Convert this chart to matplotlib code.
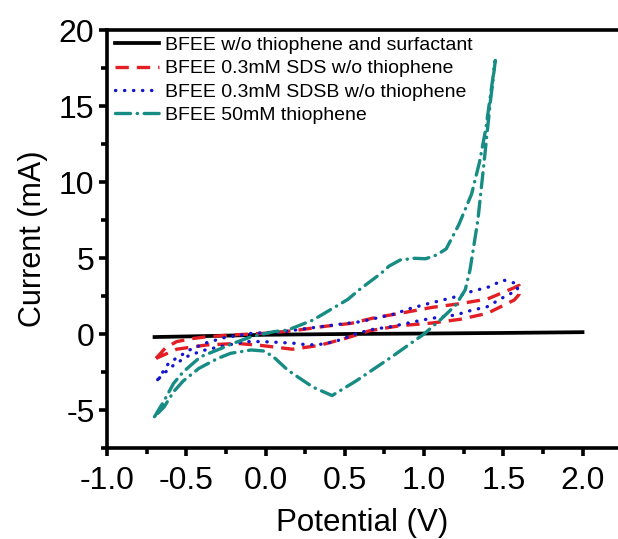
import matplotlib
matplotlib.use("Agg")
import matplotlib.pyplot as plt
from matplotlib.ticker import MultipleLocator, FormatStrFormatter

plt.rcParams['font.family'] = ['Liberation Sans', 'DejaVu Sans']
plt.rcParams['axes.unicode_minus'] = False

# BFEE w/o thiophene and surfactant
black_x = [-0.70, -0.50, -0.30, 0.00, 0.50, 1.00, 1.50, 2.00]
black_y = [-0.20, -0.16, -0.12, -0.05, 0.00, 0.03, 0.07, 0.12]

# BFEE 0.3mM SDS w/o thiophene (forward then reverse scan)
sds_x = [-0.69, -0.63, -0.56, -0.46, -0.37, -0.22, 0.00, 0.18, 0.37, 0.54, 0.68, 0.87, 1.05,
         1.23, 1.40, 1.57, 1.60, 1.60, 1.57, 1.40, 1.23, 1.05, 0.85, 0.66, 0.50, 0.34, 0.17,
         -0.03, -0.18, -0.37, -0.56, -0.69]
sds_y = [-1.6, -0.9, -0.5, -0.3, -0.18, -0.07, 0.05, 0.22, 0.5, 0.7, 1.05, 1.4, 1.75,
         2.0, 2.3, 3.05, 3.2, 2.6, 2.24, 1.36, 0.97, 0.72, 0.55, 0.22, -0.3, -0.75, -1.0,
         -0.75, -0.62, -0.72, -1.0, -1.6]

# BFEE 0.3mM SDSB w/o thiophene
sdsb_x = [-0.68, -0.61, -0.47, -0.37, -0.26, -0.09, 0.11, 0.22, 0.43, 0.60, 0.81, 0.91, 1.02,
          1.12, 1.20, 1.30, 1.41, 1.50, 1.59, 1.59, 1.49, 1.40, 1.29, 1.20, 1.09, 0.99, 0.89,
          0.79, 0.68, 0.58, 0.47, 0.37, 0.27, 0.18, 0.08, -0.02, -0.12, -0.25, -0.40, -0.50,
          -0.60, -0.68]
sdsb_y = [-3.0, -1.9, -1.0, -0.57, -0.24, 0.04, 0.15, 0.31, 0.59, 0.81, 1.31, 1.67, 1.98,
          2.24, 2.45, 2.8, 3.1, 3.55, 3.3, 2.9, 2.35, 1.8, 1.53, 1.25, 1.1, 0.92, 0.7,
          0.48, 0.31, 0.05, -0.39, -0.66, -0.72, -0.61, -0.55, -0.5, -0.5, -0.75, -1.1, -1.5,
          -2.2, -3.0]

# BFEE 50mM thiophene
thio_x = [-0.70, -0.64, -0.58, -0.52, -0.41, -0.28, -0.20, -0.09, 0.05, 0.14, 0.30, 0.52, 0.59,
          0.73, 0.78, 0.85, 0.94, 1.01, 1.08, 1.14, 1.22, 1.30, 1.35, 1.39, 1.45,
          1.42, 1.38, 1.34, 1.29, 1.26, 1.20, 1.10, 1.00, 0.79, 0.57, 0.42, 0.30, 0.20, 0.14,
          0.05, -0.01, -0.09, -0.22, -0.30, -0.42, -0.52, -0.58, -0.64, -0.70]
thio_y = [-5.44, -4.4, -3.25, -2.5, -1.5, -0.95, -0.6, -0.18, 0.15, 0.26, 0.92, 2.28, 2.9,
          4.0, 4.47, 4.87, 4.98, 4.95, 5.2, 5.6, 7.2, 9.2, 11.3, 13.5, 18.0,
          15.4, 11.4, 7.5, 4.2, 2.9, 1.9, 0.9, 0.0, -1.55, -3.1, -4.05, -3.5, -2.8, -2.37,
          -1.5, -1.12, -1.05, -1.27, -1.6, -2.26, -3.1, -3.8, -4.8, -5.44]

labels = ["BFEE w/o thiophene and surfactant",
          "BFEE 0.3mM SDS w/o thiophene",
          "BFEE 0.3mM SDSB w/o thiophene",
          "BFEE 50mM thiophene"]

fig = plt.figure(figsize=(6.18, 5.39), dpi=100)
ax = fig.add_axes([107 / 618, 1 - 448 / 539, 1 - 107 / 618, (448 - 30) / 539])

ax.plot(black_x, black_y, color='black', lw=2.7, label=labels[0])
ax.plot(sds_x, sds_y, color='#e31e24', lw=2.4, dashes=(4, 2.4), label=labels[1])
ax.plot(sdsb_x, sdsb_y, color='#1515d0', lw=2.4, dashes=(0.1, 2.6),
        dash_capstyle='round', label=labels[2])
ax.plot(thio_x, thio_y, color='#168c84', lw=2.4, dashes=(4.5, 2.0, 0.1, 2.0),
        dash_capstyle='round', label=labels[3])

ax.set_xlim(-1.0, -1.0 + 511 / 158.5)
ax.set_ylim(-7.5, 20)
ax.xaxis.set_major_locator(MultipleLocator(0.5))
ax.xaxis.set_minor_locator(MultipleLocator(0.25))
ax.yaxis.set_major_locator(MultipleLocator(5))
ax.yaxis.set_minor_locator(MultipleLocator(2.5))
ax.xaxis.set_major_formatter(FormatStrFormatter('%.1f'))

ax.spines['right'].set_visible(False)
for s in ['left', 'bottom', 'top']:
    ax.spines[s].set_linewidth(2.6)
ax.tick_params(which='major', direction='out', length=6, width=2.6, labelsize=23)
ax.tick_params(axis='x', which='major', pad=7)
ax.tick_params(axis='y', which='major', pad=3)
ax.tick_params(which='minor', direction='out', length=4, width=2.6)
ax.tick_params(top=False, right=False, which='both')

ax.set_xlabel('Potential (V)', fontsize=22.5, va='bottom')
ax.xaxis.set_label_coords(0.5, -(539 - 448 - 1) / 418)
ax.set_ylabel('Current (mA)', fontsize=22, labelpad=8)

ax.legend(loc='upper left', bbox_to_anchor=(0.015, 0.985), frameon=False, fontsize=14,
          handlelength=2.3, handletextpad=0.3, labelspacing=0.3, borderpad=0, borderaxespad=0)

fig.savefig('out.png', dpi=100)
